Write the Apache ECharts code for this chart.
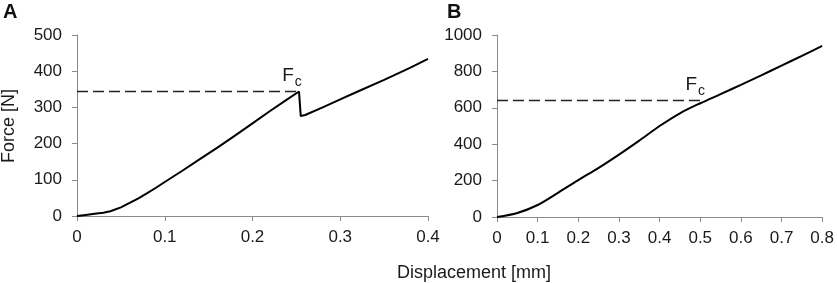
<!DOCTYPE html>
<html>
<head>
<meta charset="utf-8">
<script src="https://cdn.jsdelivr.net/npm/echarts@6/dist/echarts.min.js"></script>
<style>
  html, body { margin: 0; padding: 0; background: #fff; }
  #chart { width: 837px; height: 283px; }
</style>
</head>
<body>
<div id="chart"></div>
<script>
  // panel A
  const dispA = [0, 0.01, 0.02, 0.03, 0.038, 0.05, 0.06, 0.07, 0.08, 0.09, 0.1, 0.12, 0.14, 0.16, 0.18, 0.2, 0.22, 0.24, 0.253, 0.255, 0.26, 0.28, 0.3, 0.32, 0.35, 0.38, 0.4]
  const forceA = [0, 3, 6, 9, 13, 24, 36, 49, 63, 78, 94, 125, 157, 189, 222, 256, 290, 323, 344, 276, 279, 300, 322, 344, 376, 410, 434]
  const fcA = [[0, 344], [0.253, 344]]
  // panel B
  const dispB = [0, 0.05, 0.1, 0.15, 0.2, 0.25, 0.3, 0.35, 0.4, 0.45, 0.5, 0.55, 0.6, 0.65, 0.7, 0.75, 0.8]
  const forceB = [0, 22, 66, 133, 203, 270, 343, 420, 500, 570, 625, 675, 726, 778, 832, 885, 940]
  const fcB = [[0, 640], [0.505, 640]]

  const font = 'Liberation Sans, Arial, sans-serif'
  const txt = '#1a1a1a'

  function xAxisOf(idx, max) {
    return {
      gridIndex: idx, type: 'value', min: 0, max: max, interval: 0.1,
      axisLine: { lineStyle: { color: '#8a8a8a', width: 1 } },
      axisTick: { length: 5, lineStyle: { color: '#8a8a8a' } },
      axisLabel: { color: txt, fontSize: 17, fontFamily: font, margin: 13 },
      splitLine: { show: false }
    }
  }
  function yAxisOf(idx, max, step) {
    return {
      gridIndex: idx, type: 'value', min: 0, max: max, interval: step,
      axisLine: { show: true, lineStyle: { color: '#8a8a8a', width: 1 } },
      axisTick: { show: true, length: 5, lineStyle: { color: '#8a8a8a' } },
      axisLabel: { color: txt, fontSize: 17, fontFamily: font, margin: 15, formatter: function (v) { return String(v) } },
      splitLine: { show: false }
    }
  }
  function fcLabel() {
    return {
      show: true, position: 'top', offset: [-7, -1],
      formatter: '{f|F}{c|c}',
      rich: {
        f: { fontSize: 19, fontFamily: font, color: txt, verticalAlign: 'bottom' },
        c: { fontSize: 14, fontFamily: font, color: txt, verticalAlign: 'bottom', padding: [0, 0, -4, 1] }
      }
    }
  }

  const chart = echarts.init(document.getElementById('chart'))
  chart.setOption({
    animation: false,
    grid: [
      { left: 77, top: 35, width: 351, height: 181 },
      { left: 497, top: 35, width: 327, height: 182 }
    ],
    xAxis: [xAxisOf(0, 0.4), xAxisOf(1, 0.8)],
    yAxis: [yAxisOf(0, 500, 100), yAxisOf(1, 1000, 200)],
    graphic: [
      { type: 'text', left: 3, top: 2, style: { text: 'A', font: 'bold 20px ' + font, fill: '#111' } },
      { type: 'text', left: 447, top: 2, style: { text: 'B', font: 'bold 20px ' + font, fill: '#111' } },
      { type: 'text', x: 474, y: 273, style: { text: 'Displacement [mm]', font: '18px ' + font, fill: txt, align: 'center', verticalAlign: 'middle' } },
      { type: 'text', x: 9, y: 126, rotation: Math.PI / 2, style: { text: 'Force [N]', font: '18px ' + font, fill: txt, align: 'center', verticalAlign: 'middle' } }
    ],
    series: [
      {
        type: 'line', xAxisIndex: 0, yAxisIndex: 0, showSymbol: false, symbol: 'none',
        data: fcA,
        lineStyle: { color: '#222', width: 1.5, type: [11, 5] },
        markPoint: {
          symbol: 'circle', symbolSize: 0,
          data: [{ coord: fcA[1], label: fcLabel() }]
        }
      },
      {
        type: 'line', xAxisIndex: 0, yAxisIndex: 0, showSymbol: false, symbol: 'none',
        data: dispA.map(function (d, i) { return [d, forceA[i]] }),
        lineStyle: { color: '#000', width: 2 }
      },
      {
        type: 'line', xAxisIndex: 1, yAxisIndex: 1, showSymbol: false, symbol: 'none',
        data: fcB,
        lineStyle: { color: '#222', width: 1.5, type: [11, 5] },
        markPoint: {
          symbol: 'circle', symbolSize: 0,
          data: [{ coord: fcB[1], label: fcLabel() }]
        }
      },
      {
        type: 'line', xAxisIndex: 1, yAxisIndex: 1, showSymbol: false, symbol: 'none',
        data: dispB.map(function (d, i) { return [d, forceB[i]] }),
        smooth: 0.3,
        lineStyle: { color: '#000', width: 2 }
      }
    ]
  })
</script>
</body>
</html>
